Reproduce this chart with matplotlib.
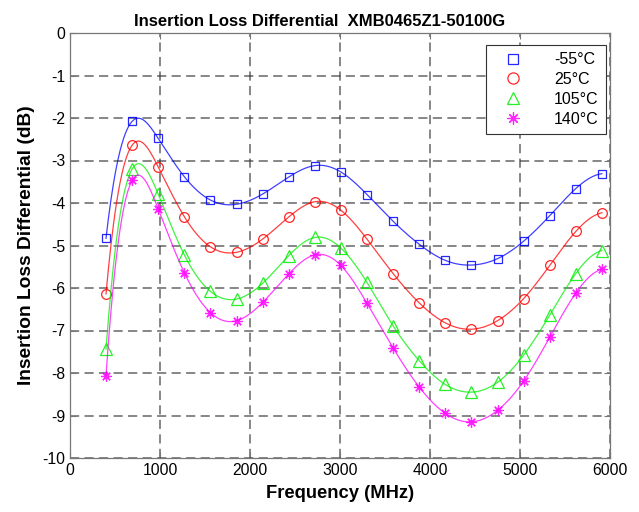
import numpy as np
import matplotlib
matplotlib.use("Agg")
import matplotlib.pyplot as plt

plt.rcParams['font.family'] = ['Liberation Sans', 'DejaVu Sans']
plt.rcParams['axes.unicode_minus'] = False

freq = [400, 690, 980, 1270, 1560, 1850, 2140, 2430, 2720, 3010,
        3300, 3590, 3880, 4170, 4460, 4750, 5040, 5330, 5620, 5910]

il_m55 = [-4.83, -2.08, -2.48, -3.38, -3.93, -4.03, -3.79, -3.39, -3.12, -3.27,
          -3.80, -4.43, -4.97, -5.35, -5.46, -5.31, -4.90, -4.30, -3.66, -3.31]
il_25 = [-6.14, -2.64, -3.15, -4.32, -5.03, -5.16, -4.85, -4.33, -3.97, -4.17,
         -4.85, -5.66, -6.35, -6.82, -6.97, -6.77, -6.25, -5.47, -4.67, -4.23]
il_105 = [-7.44, -3.20, -3.79, -5.22, -6.08, -6.26, -5.89, -5.24, -4.81, -5.06,
          -5.87, -6.89, -7.71, -8.27, -8.45, -8.22, -7.58, -6.64, -5.66, -5.12]
il_140 = [-8.06, -3.47, -4.14, -5.64, -6.58, -6.77, -6.34, -5.67, -5.22, -5.47,
          -6.36, -7.41, -8.33, -8.95, -9.15, -8.88, -8.19, -7.16, -6.12, -5.56]

labels = ['-55°C', '25°C', '105°C', '140°C']
colors = ['#0000ff', '#ff0000', '#00ee00', '#ff00ff']
markers = ['s', 'o', '^', (8, 2, 0)]
msizes = [6, 7, 8, 7.5]


def spline_notaknot(x, y, xq):
    x = np.asarray(x, float); y = np.asarray(y, float)
    n = len(x)
    h = np.diff(x)
    A = np.zeros((n, n)); b = np.zeros(n)
    A[0, 0] = h[1]; A[0, 1] = -(h[0] + h[1]); A[0, 2] = h[0]
    A[-1, -3] = h[-1]; A[-1, -2] = -(h[-2] + h[-1]); A[-1, -1] = h[-2]
    for i in range(1, n - 1):
        A[i, i - 1] = h[i - 1]
        A[i, i] = 2 * (h[i - 1] + h[i])
        A[i, i + 1] = h[i]
        b[i] = 6 * ((y[i + 1] - y[i]) / h[i] - (y[i] - y[i - 1]) / h[i - 1])
    M = np.linalg.solve(A, b)
    xq = np.asarray(xq, float)
    idx = np.clip(np.searchsorted(x, xq) - 1, 0, n - 2)
    x0 = x[idx]; x1 = x[idx + 1]; hh = x1 - x0
    t0 = x1 - xq; t1 = xq - x0
    return (M[idx] * t0**3 / (6 * hh) + M[idx + 1] * t1**3 / (6 * hh)
            + (y[idx] / hh - M[idx] * hh / 6) * t0
            + (y[idx + 1] / hh - M[idx + 1] * hh / 6) * t1)


fig = plt.figure(figsize=(6.39, 5.12), dpi=100)
ax = fig.add_axes([70 / 639, 1 - 458 / 512, 540 / 639, 425 / 512])

xf = np.linspace(freq[0], freq[-1], 600)
for ys, lab, c, m, ms in zip([il_m55, il_25, il_105, il_140], labels, colors, markers, msizes):
    ax.plot(xf, spline_notaknot(freq, ys, xf), '-', color=c, lw=0.9, alpha=0.75)
    ax.plot(freq, ys, linestyle='none', marker=m, mfc='none', mec=c, ms=ms,
            mew=0.9, label=lab, alpha=0.85)

ax.set_xlim(0, 6000)
ax.set_ylim(-10, 0)
ax.set_xticks(np.arange(0, 6001, 1000))
ax.set_yticks(np.arange(-10, 0.1, 1))
ax.tick_params(direction='in', labelsize=11.3, length=4, top=True, right=True,
               labeltop=False, labelright=False, colors='#777777', labelcolor='black')
ax.grid(True, color='#333333', linestyle=(0, (6, 3.5)), linewidth=1.1, alpha=0.75)
for s in ax.spines.values():
    s.set_color('#777777')
    s.set_linewidth(0.9)

fig.text(320 / 639, 1 - 26 / 512, 'Insertion Loss Differential  XMB0465Z1-50100G',
         fontsize=12, fontweight='bold', ha='center', va='baseline')
ax.set_xlabel('Frequency (MHz)', fontsize=13.2, fontweight='bold', labelpad=5)
ax.set_ylabel('Insertion Loss Differential (dB)', fontsize=13.8, fontweight='bold', labelpad=5)

leg = ax.legend(loc='upper right', fontsize=11.5, frameon=True, fancybox=False,
                edgecolor='#333333', framealpha=1, handlelength=2.4,
                handletextpad=1.4, borderpad=0.45, labelspacing=0.3,
                markerscale=1.15, borderaxespad=0,
                bbox_to_anchor=(536 / 540, (458 - 45) / 425))
leg.get_frame().set_linewidth(0.8)

fig.savefig('out.png', dpi=100)
